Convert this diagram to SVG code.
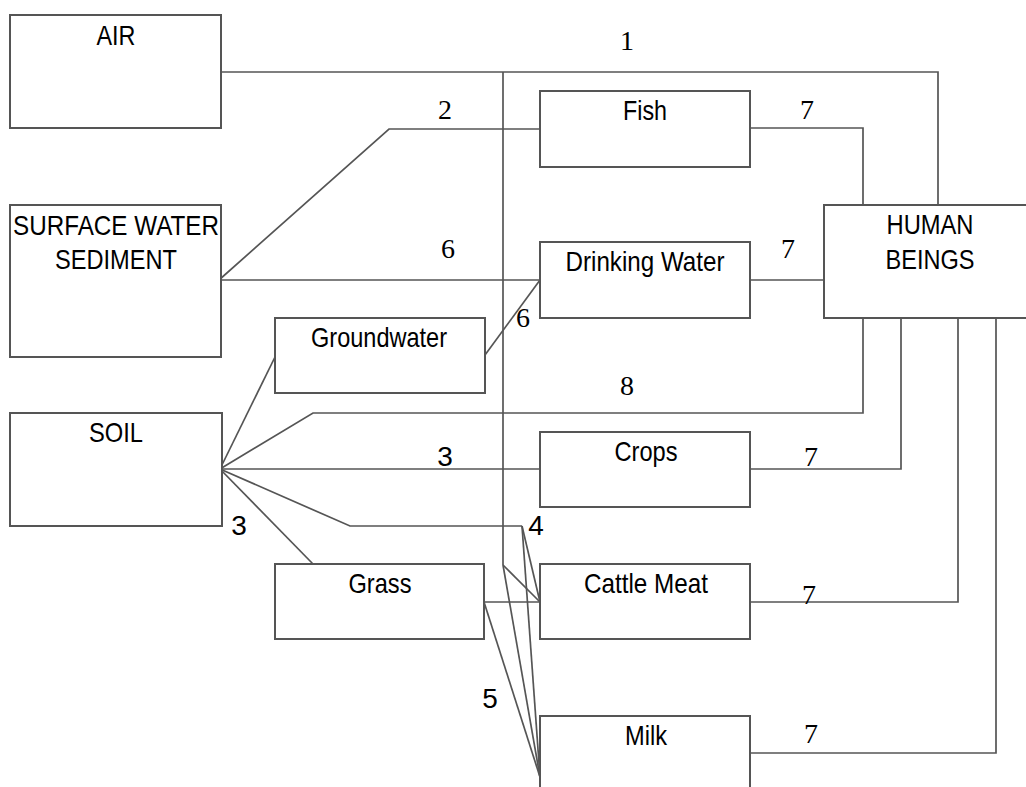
<svg xmlns="http://www.w3.org/2000/svg" width="1026" height="787" viewBox="0 0 1026 787">
<style>
.box{fill:#fff;stroke:#555;stroke-width:2}
.ln{fill:none;stroke:#555;stroke-width:1.7;stroke-linejoin:miter}
.lb{font-family:"Liberation Sans Narrow","Liberation Sans",Arial,sans-serif;font-size:28px;fill:#000;text-anchor:middle}
.nm{font-family:"Liberation Serif","Times New Roman",serif;font-size:28px;fill:#000;text-anchor:middle}
</style>
<rect width="1026" height="787" fill="#fff"/>
<g id="connectors">
<polyline class="ln" points="219,72 938,72 938,205"/>
<polyline class="ln" points="503,72 503,565"/>
<polyline class="ln" points="219,280 389,129 540,129"/>
<polyline class="ln" points="219,280 540,280"/>
<polyline class="ln" points="485,355 540,280"/>
<polyline class="ln" points="750,128 863,128 863,205"/>
<polyline class="ln" points="750,280 824,280"/>
<polyline class="ln" points="220,469 275,357"/>
<polyline class="ln" points="220,469 313,413 863,413 863,318"/>
<polyline class="ln" points="220,469 540,469"/>
<polyline class="ln" points="750,469 901,469 901,318"/>
<polyline class="ln" points="220,469 350,526 522,526"/>
<polyline class="ln" points="522,526 540,602"/>
<polyline class="ln" points="522,526 540,777"/>
<polyline class="ln" points="503,565 540,602"/>
<polyline class="ln" points="503,565 540,777"/>
<polyline class="ln" points="220,469 313,564"/>
<polyline class="ln" points="484,602 540,602"/>
<polyline class="ln" points="484,602 540,777"/>
<polyline class="ln" points="750,602 958,602 958,318"/>
<polyline class="ln" points="750,753 996,753 996,318"/>
</g>
<g id="air"><rect class="box" x="10" y="15" width="211" height="113"/><text class="lb" x="116" y="45" textLength="39" lengthAdjust="spacingAndGlyphs">AIR</text></g>
<g id="surface-water"><rect class="box" x="10" y="205" width="211" height="152"/><text class="lb" x="116" y="235" textLength="206" lengthAdjust="spacingAndGlyphs">SURFACE WATER</text><text class="lb" x="116" y="269" textLength="122" lengthAdjust="spacingAndGlyphs">SEDIMENT</text></g>
<g id="soil"><rect class="box" x="10" y="413" width="212" height="113"/><text class="lb" x="116" y="442" textLength="54" lengthAdjust="spacingAndGlyphs">SOIL</text></g>
<g id="fish"><rect class="box" x="540" y="91" width="210" height="76"/><text class="lb" x="645" y="120" textLength="44" lengthAdjust="spacingAndGlyphs">Fish</text></g>
<g id="drinking-water"><rect class="box" x="540" y="242" width="210" height="76"/><text class="lb" x="645" y="271" textLength="159" lengthAdjust="spacingAndGlyphs">Drinking Water</text></g>
<g id="groundwater"><rect class="box" x="275" y="318" width="210" height="75"/><text class="lb" x="379" y="347" textLength="136" lengthAdjust="spacingAndGlyphs">Groundwater</text></g>
<g id="crops"><rect class="box" x="540" y="432" width="210" height="75"/><text class="lb" x="646" y="461" textLength="63" lengthAdjust="spacingAndGlyphs">Crops</text></g>
<g id="grass"><rect class="box" x="275" y="564" width="209" height="75"/><text class="lb" x="380" y="593" textLength="63" lengthAdjust="spacingAndGlyphs">Grass</text></g>
<g id="cattle-meat"><rect class="box" x="540" y="564" width="210" height="75"/><text class="lb" x="646" y="593" textLength="124" lengthAdjust="spacingAndGlyphs">Cattle Meat</text></g>
<g id="milk"><rect class="box" x="540" y="716" width="210" height="100"/><text class="lb" x="646" y="745" textLength="42" lengthAdjust="spacingAndGlyphs">Milk</text></g>
<g id="human-beings"><rect class="box" x="824" y="205" width="230" height="113"/><text class="lb" x="930" y="234" textLength="87" lengthAdjust="spacingAndGlyphs">HUMAN</text><text class="lb" x="930" y="269" textLength="89" lengthAdjust="spacingAndGlyphs">BEINGS</text></g>
<g id="labels">
<text class="nm" x="627" y="50">1</text>
<text class="nm" x="445" y="119">2</text>
<text class="nm" x="807" y="119">7</text>
<text class="nm" x="448" y="258">6</text>
<text class="nm" x="788" y="258">7</text>
<text class="nm" x="523" y="327">6</text>
<text class="nm" x="627" y="395">8</text>
<text class="lb" x="445" y="466">3</text>
<text class="nm" x="811" y="466">7</text>
<text class="lb" x="239" y="535">3</text>
<text class="lb" x="536" y="535">4</text>
<text class="nm" x="809" y="604">7</text>
<text class="lb" x="490" y="708">5</text>
<text class="nm" x="811" y="743">7</text>
</g>
</svg>
